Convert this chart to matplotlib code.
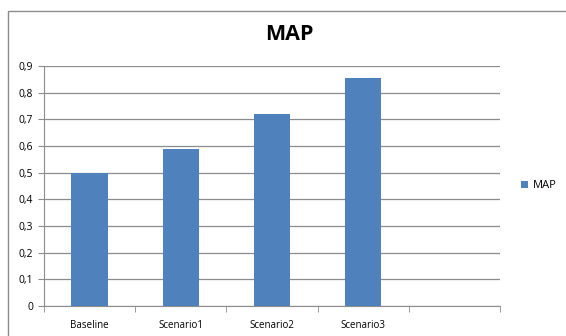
import matplotlib
matplotlib.use("Agg")
import matplotlib.pyplot as plt
from matplotlib.patches import Rectangle
from matplotlib.ticker import FixedLocator, FuncFormatter
import numpy as np

categories = ["Baseline", "Scenario1", "Scenario2", "Scenario3", ""]
map_values = [0.50, 0.59, 0.72, 0.855, np.nan]
y_ticks = [0, 0.1, 0.2, 0.3, 0.4, 0.5, 0.6, 0.7, 0.8, 0.9]

BLUE = "#4f81bd"
GRID = "#8c8c8c"

plt.rcParams["font.family"] = ["Open Sans", "DejaVu Sans"]

fig = plt.figure(figsize=(5.66, 3.36), dpi=100)
# outer chart-area border
fig.patches.append(Rectangle((8 / 566, -0.01), 1.0, 1 - 11 / 336 + 0.01,
                             transform=fig.transFigure, fill=False,
                             edgecolor="#8c8c8c", lw=1.0))
ax = fig.add_axes([44 / 566, 1 - 306 / 336, 456 / 566, 240 / 336])

x = np.arange(len(categories))
ax.bar(x, map_values, width=0.4, color=BLUE, label="MAP", zorder=3)

ax.set_xlim(-0.5, len(categories) - 0.5)
ax.set_ylim(0, 0.9)
ax.set_yticks(y_ticks)
ax.yaxis.set_major_formatter(FuncFormatter(lambda v, p: "0" if v == 0 else f"{v:.1f}".replace(".", ",")))
ax.yaxis.grid(True, color=GRID, lw=0.9, zorder=0)

# category labels centred, tick marks on category boundaries
ax.set_xticks(x)
ax.set_xticklabels(categories)
ax.tick_params(axis="x", which="major", length=0, pad=10, labelsize=7)
ax.xaxis.set_minor_locator(FixedLocator(np.arange(-0.5, len(categories), 1.0)))
ax.tick_params(axis="x", which="minor", length=4, color=GRID, direction="out")
ax.tick_params(axis="y", length=4, color=GRID, labelsize=7.5, pad=4)

for side in ("top", "right"):
    ax.spines[side].set_visible(False)
for side in ("left", "bottom"):
    ax.spines[side].set_color(GRID)

fig.text(289 / 566, 1 - 35 / 336, "MAP", ha="center", va="center",
         fontsize=15.5, fontweight="bold")
ax.legend(loc="center left", bbox_to_anchor=(1.025, 0.5), frameon=False,
          fontsize=8, handlelength=0.6, handleheight=0.6, handletextpad=0.4)

fig.savefig("out.png", dpi=100)
